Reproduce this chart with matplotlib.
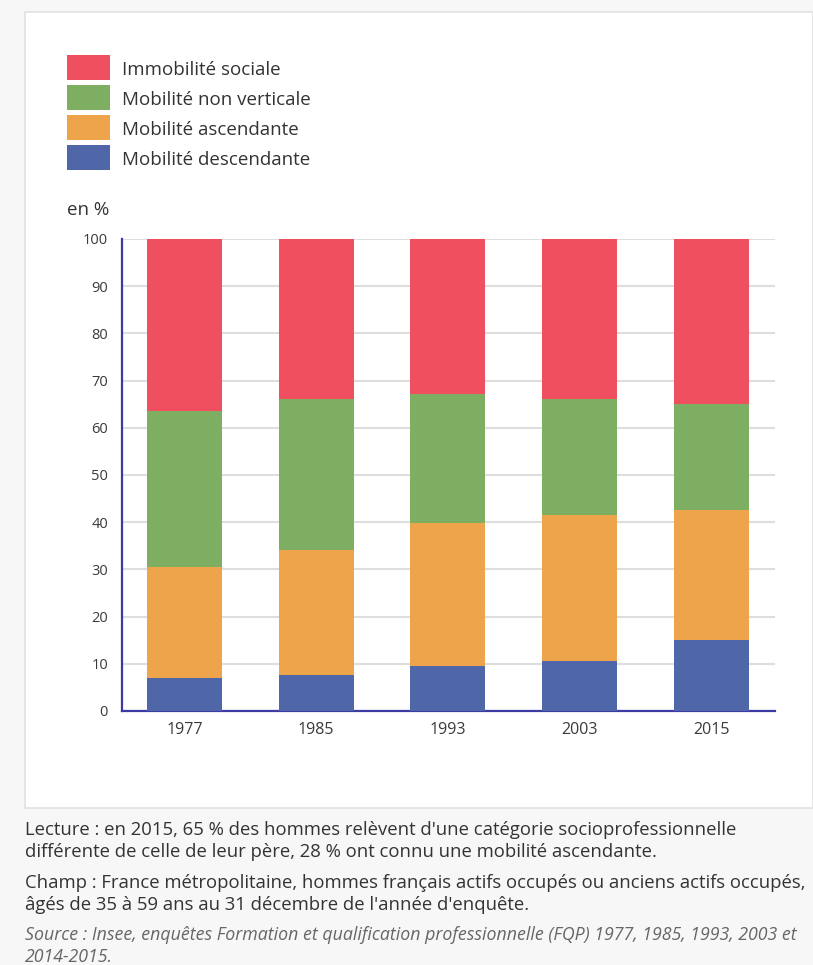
import matplotlib.pyplot as plt
from matplotlib.patches import Rectangle

# Data (en %)
years = ["1977", "1985", "1993", "2003", "2015"]
descendante = [7.0, 7.6, 9.6, 10.6, 15.0]
ascendante = [23.5, 26.6, 30.3, 30.9, 27.5]
non_verticale = [33.1, 31.9, 27.3, 24.6, 22.6]
immobilite = [36.4, 33.9, 32.8, 33.9, 34.9]

series_names = ["Immobilité sociale", "Mobilité non verticale",
                "Mobilité ascendante", "Mobilité descendante"]
colors = ["#f04f5f", "#7eae61", "#eea44b", "#4f67a8"]

plt.rcParams['font.family'] = ['Open Sans', 'DejaVu Sans']

W, H = 813, 965
fig = plt.figure(figsize=(W / 100, H / 100), dpi=100)
fig.patch.set_facecolor("#f7f7f7")


def fx(px):
    return px / W


def fy(py):
    return 1 - py / H


# white panel behind everything
fig.patches.append(Rectangle((fx(25), fy(808)), fx(813 - 25), 796 / H,
                             transform=fig.transFigure, facecolor="white",
                             edgecolor="#e2e2e2", linewidth=1.2, zorder=-5))

ax = fig.add_axes([fx(122), fy(711), fx(775 - 122), (711 - 239) / H])
ax.set_facecolor("none")
ax.set_zorder(2)

x = list(range(len(years)))
width = 0.57
bottom = [0.0] * len(years)
stack = [descendante, ascendante, non_verticale, immobilite]
stack_colors = colors[::-1]
for vals, c in zip(stack, stack_colors):
    ax.bar(x, vals, width=width, bottom=bottom, color=c, zorder=3)
    bottom = [b + v for b, v in zip(bottom, vals)]

ax.set_ylim(0, 100)
ax.set_xlim(-0.475, 4.486)
ax.set_yticks(range(0, 101, 10))
ax.set_xticks(x)
ax.set_xticklabels(years)
ax.yaxis.grid(True, color="#dedede", linewidth=1.5, zorder=0)
ax.set_axisbelow(True)
ax.tick_params(axis='both', length=0, labelcolor="#3a3a3a")
ax.tick_params(axis='y', pad=10, labelsize=10.5)
ax.tick_params(axis='x', pad=8, labelsize=11.5)
for s in ["top", "right"]:
    ax.spines[s].set_visible(False)
for s in ["left", "bottom"]:
    ax.spines[s].set_color("#3b3ba3")
    ax.spines[s].set_linewidth(1.6)

# legend
for i, (name, c) in enumerate(zip(series_names, colors)):
    top = 55 + i * 30
    fig.patches.append(Rectangle((fx(67), fy(top + 25)), fx(43), 25 / H,
                                 transform=fig.transFigure, facecolor=c,
                                 edgecolor="none"))
    fig.text(fx(122), fy(top + 15), name, fontsize=13.5, color="#333333",
             va="center", ha="left")

fig.text(fx(67), fy(210), "en %", fontsize=13.5, color="#333333",
         va="center", ha="left")

# footer
foot_color = "#333333"
fig.text(fx(25), fy(830), "Lecture : en 2015, 65 % des hommes relèvent d'une catégorie socioprofessionnelle",
         fontsize=13.3, color=foot_color, va="center")
fig.text(fx(25), fy(852), "différente de celle de leur père, 28 % ont connu une mobilité ascendante.",
         fontsize=13.3, color=foot_color, va="center")
fig.text(fx(25), fy(883), "Champ : France métropolitaine, hommes français actifs occupés ou anciens actifs occupés,",
         fontsize=13.3, color=foot_color, va="center")
fig.text(fx(25), fy(905), "âgés de 35 à 59 ans au 31 décembre de l'année d'enquête.",
         fontsize=13.3, color=foot_color, va="center")
fig.text(fx(25), fy(935), "Source : Insee, enquêtes Formation et qualification professionnelle (FQP) 1977, 1985, 1993, 2003 et",
         fontsize=12.8, color="#666666", style="italic", va="center")
fig.text(fx(25), fy(957), "2014-2015.",
         fontsize=12.8, color="#666666", style="italic", va="center")

fig.savefig("out.png", dpi=100, facecolor=fig.get_facecolor())
